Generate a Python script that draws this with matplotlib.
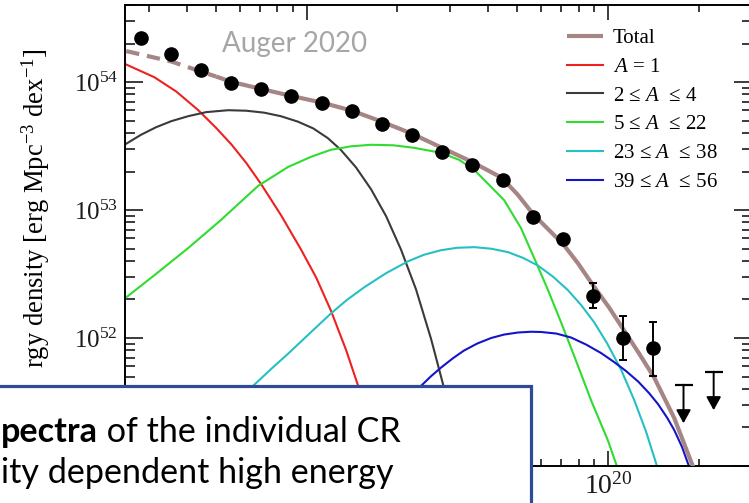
import numpy as np
import matplotlib
matplotlib.use('Agg')
import matplotlib.pyplot as plt
from matplotlib.patches import Rectangle
from matplotlib.ticker import LogLocator, LogFormatterMathtext, NullFormatter, FuncFormatter

plt.rcParams['mathtext.fontset'] = 'custom'
plt.rcParams['mathtext.rm'] = 'Liberation Serif'
plt.rcParams['mathtext.it'] = 'Liberation Serif:italic'
plt.rcParams['mathtext.bf'] = 'Liberation Serif:bold'
plt.rcParams['font.family'] = ['Liberation Serif', 'DejaVu Serif']

# ---------------- data (log10 E [eV], log10 energy density) ----------------
data_lgE = [18.45, 18.55, 18.65, 18.75, 18.85, 18.95, 19.05, 19.15, 19.25,
            19.35, 19.45, 19.55, 19.65, 19.75, 19.85, 19.95, 20.05, 20.15]
data_lg = [54.347, 54.221, 54.093, 53.994, 53.949, 53.894, 53.837, 53.771, 53.675,
           53.583, 53.455, 53.353, 53.235, 52.947, 52.770, 52.328, 52.002, 51.923]
data_err_up = [0, 0, 0, 0, 0, 0, 0, 0, 0, 0, 0, 0, 0, 0, 0, 0.099, 0.167, 0.206]
data_err_dn = [0, 0, 0, 0, 0, 0, 0, 0, 0, 0, 0, 0, 0, 0, 0, 0.097, 0.173, 0.221]

ul_lgE = [20.25, 20.35]
ul_lg = [51.635, 51.737]

total_lgE = [18.402, 18.551, 18.650, 18.700, 18.753, 18.852, 18.952, 19.052, 19.151,
             19.250, 19.350, 19.449, 19.549, 19.648, 19.701, 19.751, 19.794, 19.851,
             19.900, 19.950, 20.003, 20.053, 20.103, 20.153, 20.219, 20.282]
total_lg = [54.242, 54.161, 54.082, 54.043, 54.000, 53.945, 53.890, 53.839, 53.776,
            53.690, 53.596, 53.486, 53.376, 53.251, 53.118, 52.969, 52.867, 52.733,
            52.584, 52.412, 52.239, 52.059, 51.878, 51.690, 51.376, 50.992]
total_fit_start = 18.70

h_lgE = [18.402, 18.495, 18.568, 18.641, 18.700, 18.751, 18.801, 18.850, 18.916,
         18.982, 19.032, 19.081, 19.131, 19.171, 19.198]
h_lg = [54.137, 54.038, 53.926, 53.780, 53.642, 53.512, 53.365, 53.200, 52.957,
        52.690, 52.472, 52.213, 51.907, 51.627, 51.447]

he_lgE = [18.402, 18.451, 18.501, 18.551, 18.607, 18.667, 18.740, 18.800, 18.859,
          18.915, 18.972, 19.022, 19.071, 19.114, 19.164, 19.214, 19.264, 19.313,
          19.363, 19.413, 19.453, 19.479]
he_lg = [53.518, 53.588, 53.647, 53.694, 53.733, 53.765, 53.780, 53.776, 53.761,
         53.733, 53.690, 53.638, 53.561, 53.469, 53.333, 53.162, 52.951, 52.692,
         52.380, 51.992, 51.635, 51.384]

cno_lgE = [18.402, 18.495, 18.607, 18.716, 18.839, 18.939, 19.015, 19.081, 19.148,
           19.214, 19.287, 19.357, 19.446, 19.506, 19.556, 19.655, 19.711, 19.761,
           19.801, 19.844, 19.887, 19.944, 20.000, 20.030]
cno_lg = [52.318, 52.490, 52.702, 52.922, 53.188, 53.337, 53.416, 53.471, 53.498,
          53.510, 53.506, 53.486, 53.447, 53.392, 53.314, 53.078, 52.859, 52.592,
          52.373, 52.122, 51.863, 51.510, 51.196, 50.992]

si_lgE = [18.766, 18.823, 18.882, 18.939, 19.008, 19.081, 19.134, 19.191, 19.264,
          19.337, 19.390, 19.446, 19.499, 19.556, 19.612, 19.668, 19.718, 19.768,
          19.818, 19.867, 19.910, 19.954, 19.997, 20.043, 20.086, 20.126, 20.163]
si_lg = [51.510, 51.627, 51.757, 51.878, 52.031, 52.192, 52.298, 52.396, 52.507,
         52.600, 52.651, 52.686, 52.705, 52.710, 52.698, 52.671, 52.626, 52.565,
         52.478, 52.373, 52.259, 52.122, 51.957, 51.753, 51.518, 51.267, 50.992]

fe_lgE = [19.347, 19.380, 19.413, 19.446, 19.486, 19.522, 19.566, 19.612, 19.655,
          19.701, 19.745, 19.778, 19.828, 19.877, 19.927, 19.977, 20.020, 20.060,
          20.100, 20.136, 20.166, 20.196, 20.219, 20.245, 20.269]
fe_lg = [51.549, 51.627, 51.702, 51.769, 51.843, 51.902, 51.957, 52.000, 52.027,
         52.043, 52.049, 52.047, 52.035, 52.004, 51.949, 51.882, 51.812, 51.741,
         51.659, 51.569, 51.482, 51.376, 51.282, 51.149, 50.992]

legend_labels = ['Total', '$A$ = 1', '2 \u2264 $A$  \u2264 4', '5 \u2264 $A$  \u2264 22',
                 '23 \u2264 $A$  \u2264 38', '39 \u2264 $A$  \u2264 56']
ylabel_text = 'rgy density [erg Mpc$^{-3}$ dex$^{-1}$]'
annotation_text = 'Auger 2020'
box_line1_bold = 'pectra'
box_line1_rest = ' of the individual CR'
box_line2 = 'ity dependent high energy'

# ---------------- figure ----------------
W, H = 749, 503
fig = plt.figure(figsize=(W / 100, H / 100), dpi=100)
fig.patch.set_facecolor('white')
ax = fig.add_axes([125 / W, 37 / H, 627 / W, 461 / H])
ax.set_xscale('log')
ax.set_yscale('log')
ax.set_xlim(2.5e18, 3e20)
ax.set_ylim(1e51, 4e54)

def p10(a):
    return 10 ** np.asarray(a, dtype=float)

c_total = '#a68585'
tl = np.asarray(total_lgE)
tv = np.asarray(total_lg)
m_d = tl <= total_fit_start + 1e-9
m_s = tl >= total_fit_start - 1e-9
ax.plot(p10(tl[m_d]), p10(tv[m_d]), color=c_total, lw=3, ls=(0, (3.2, 1.9)), zorder=3)
l_tot, = ax.plot(p10(tl[m_s]), p10(tv[m_s]), color=c_total, lw=3, zorder=3,
                 solid_capstyle='butt', solid_joinstyle='round')

kw = dict(lw=1.5, zorder=2, solid_joinstyle='round')
l_h, = ax.plot(p10(h_lgE), p10(h_lg), color='#ee2020', **kw)
l_he, = ax.plot(p10(he_lgE), p10(he_lg), color='#3a3a3a', **kw)
l_cno, = ax.plot(p10(cno_lgE), p10(cno_lg), color='#2fdc2f', **kw)
l_si, = ax.plot(p10(si_lgE), p10(si_lg), color='#26c0c4', **kw)
l_fe, = ax.plot(p10(fe_lgE), p10(fe_lg), color='#1414c8', **kw)

# data points
dx = p10(data_lgE)
dy = p10(data_lg)
yerr_lo = dy - p10(np.asarray(data_lg) - np.asarray(data_err_dn))
yerr_hi = p10(np.asarray(data_lg) + np.asarray(data_err_up)) - dy
ax.errorbar(dx, dy, yerr=[yerr_lo, yerr_hi], fmt='o', color='black', ms=9.5,
            elinewidth=1.4, capsize=2.7, capthick=1.4, zorder=5)

# upper limits
for lx, ly in zip(ul_lgE, ul_lg):
    xx, yy = 10 ** lx, 10 ** ly
    ax.plot([xx], [yy], marker='_', ms=13.5, mew=1.6, color='black', zorder=5)
    ax.annotate('', xy=(xx, yy / 2.0), xytext=(xx, yy),
                arrowprops=dict(arrowstyle='-|>,head_length=0.4,head_width=0.22',
                                mutation_scale=20, lw=1.4, color='black',
                                shrinkA=0, shrinkB=0), zorder=5)

# ticks
for s in ax.spines.values():
    s.set_linewidth(1.4)
ax.xaxis.set_major_locator(LogLocator(base=10, numticks=10))
ax.xaxis.set_minor_locator(LogLocator(base=10, subs=np.arange(2, 10), numticks=20))
ax.yaxis.set_major_locator(LogLocator(base=10, numticks=10))
ax.yaxis.set_minor_locator(LogLocator(base=10, subs=np.arange(2, 10), numticks=20))
_fmt = LogFormatterMathtext()
# labels that sit behind the overlay box in the reference are left empty
ax.xaxis.set_major_formatter(FuncFormatter(lambda v, pos: _fmt(v, pos) if v > 3e19 else ''))
ax.yaxis.set_major_formatter(FuncFormatter(lambda v, pos: _fmt(v, pos) if v > 3e51 else ''))
ax.xaxis.set_minor_formatter(NullFormatter())
ax.yaxis.set_minor_formatter(NullFormatter())
ax.tick_params(which='both', direction='in', top=True, right=True, width=1.2,
               colors='#1a1a1a')
ax.tick_params(axis='y', which='major', length=13, labelsize=18, pad=5)
ax.tick_params(axis='y', which='minor', length=7)
ax.tick_params(axis='x', which='major', length=10.5, labelsize=20, pad=5)
ax.tick_params(axis='x', which='minor', length=5)

# legend
leg = ax.legend([l_tot, l_h, l_he, l_cno, l_si, l_fe], legend_labels,
                loc='upper left', bbox_to_anchor=(567 / W, 1 - 28.5 / H),
                bbox_transform=fig.transFigure, frameon=False, fontsize=15,
                handlelength=1.75, handletextpad=0.45, labelspacing=0.44,
                borderpad=0, borderaxespad=0)

# annotation
fig.text(222 / W, 1 - 51.7 / H, annotation_text, fontfamily='Lato', fontsize=20,
         color='#a6a6a6', va='baseline', ha='left')

# y label (only the part not hidden by the overlay box)
fig.text(36 / W, 1 - 48 / H, ylabel_text, rotation=90, ha='center', va='top',
         fontsize=19.2, zorder=1)

# overlay text box
box = Rectangle((-5 / W, -5 / H), (531 + 5) / W, (503 - 386 + 5) / H,
                transform=fig.transFigure, facecolor='white', edgecolor='#2f4a97',
                lw=2.3, zorder=10)
fig.add_artist(box)
fs_box = 24.6
t1 = fig.text(1 / W, 1 - 442 / H, box_line1_bold, fontfamily='Lato', fontweight='bold',
              fontsize=fs_box, va='baseline', ha='left', zorder=11)
fig.canvas.draw()
bb = t1.get_window_extent()
fig.text(bb.x1 / W, 1 - 442 / H, box_line1_rest, fontfamily='Lato', fontsize=fs_box,
         va='baseline', ha='left', zorder=11)
fig.text(1 / W, 1 - 483 / H, box_line2, fontfamily='Lato', fontsize=fs_box,
         va='baseline', ha='left', zorder=11)

fig.savefig('out.png', dpi=100)
